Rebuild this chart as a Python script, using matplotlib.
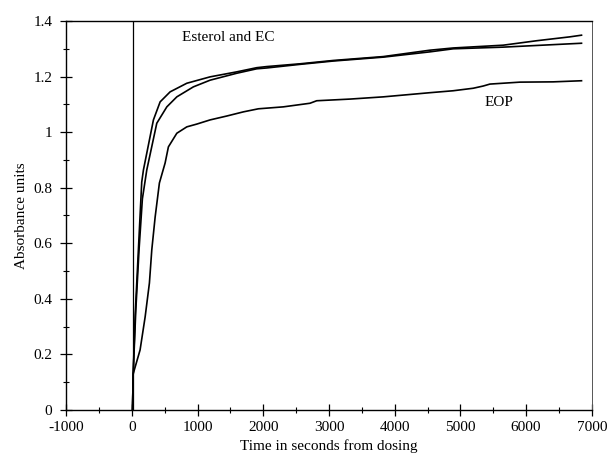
import matplotlib
matplotlib.use("Agg")
import matplotlib.pyplot as plt
from matplotlib.ticker import MultipleLocator

# Esterol curve (faster riser, ends highest)
esterol_t = [10, 20, 50, 100, 150, 176, 328, 430, 582, 836, 1190, 1596, 1900,
             2052, 2559, 3065, 3826, 4536, 4891, 5651, 6159, 6665, 6843]
esterol_y = [0.0, 0.13, 0.34, 0.58, 0.82, 0.864, 1.044, 1.109, 1.145, 1.176, 1.199, 1.217, 1.232,
             1.236, 1.246, 1.258, 1.272, 1.295, 1.303, 1.313, 1.329, 1.343, 1.349]

# EC curve
ec_t = [10, 20, 60, 110, 160, 227, 379, 532, 684, 936, 1190, 1596, 1900,
        2052, 2559, 3065, 3826, 4536, 4891, 5651, 6159, 6843]
ec_y = [0.0, 0.13, 0.36, 0.58, 0.76, 0.864, 1.032, 1.091, 1.127, 1.163, 1.187, 1.212, 1.228,
        1.231, 1.244, 1.256, 1.270, 1.289, 1.300, 1.306, 1.312, 1.320]

# EOP curve
eop_t = [10, 20, 125, 202, 267, 303, 354, 419, 506, 556, 684, 836, 988, 1190, 1444, 1697,
         1925, 2305, 2711, 2813, 3319, 3826, 4536, 4891, 5195, 5347, 5449, 5905, 6411, 6843]
eop_y = [0.0, 0.13, 0.216, 0.335, 0.457, 0.576, 0.694, 0.817, 0.889, 0.947, 0.996, 1.019,
         1.029, 1.044, 1.058, 1.073, 1.084, 1.091, 1.104, 1.113, 1.119, 1.127, 1.142, 1.149,
         1.158, 1.166, 1.173, 1.180, 1.181, 1.185]

dosing_t = 10

plt.rcParams["font.family"] = ["Liberation Serif", "DejaVu Serif"]
plt.rcParams["axes.unicode_minus"] = False

fig = plt.figure(figsize=(6.07, 4.57), dpi=100)
ax = fig.add_axes([0.109, 0.103, 0.866, 0.851])

ax.plot(esterol_t, esterol_y, color="black", lw=1.2)
ax.plot(ec_t, ec_y, color="black", lw=1.2)
ax.plot(eop_t, eop_y, color="black", lw=1.2)
ax.plot([dosing_t, dosing_t], [0, 1.4], color="black", lw=0.9)

ax.set_xlim(-1000, 7000)
ax.set_ylim(0, 1.4)
ax.xaxis.set_major_locator(MultipleLocator(1000))
ax.xaxis.set_minor_locator(MultipleLocator(500))
ax.yaxis.set_minor_locator(MultipleLocator(0.1))
ax.set_yticks([0, 0.2, 0.4, 0.6, 0.8, 1.0, 1.2, 1.4])
ax.set_yticklabels(["0", "0.2", "0.4", "0.6", "0.8", "1", "1.2", "1.4"])

ax.tick_params(which="major", direction="inout", length=8, width=0.9,
               labelsize=11, pad=4)
ax.tick_params(which="minor", direction="inout", length=5, width=0.8)
ax.tick_params(axis="y", which="major", pad=6)

for side in ["left", "bottom", "top"]:
    ax.spines[side].set_linewidth(1.0)
ax.spines["right"].set_linewidth(0.7)
ax.spines["right"].set_color("#555555")

ax.set_xlabel("Time in seconds from dosing", fontsize=11, labelpad=4)
ax.set_ylabel("Absorbance units", fontsize=11, labelpad=4)

ax.text(764, 1.342, "Esterol and EC", fontsize=11, va="center", ha="left")
ax.text(5586, 1.108, "EOP", fontsize=11, va="center", ha="center")

fig.savefig("out.png", dpi=100)
